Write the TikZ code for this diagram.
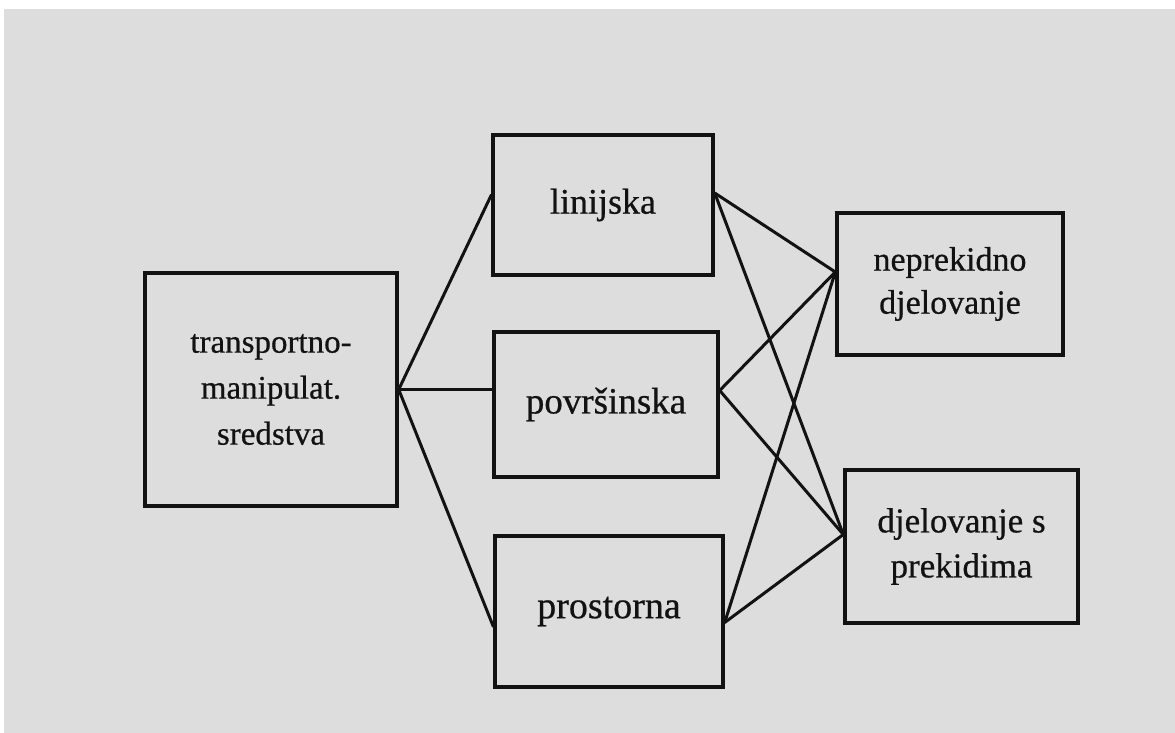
\documentclass[tikz,border=0pt]{standalone}
\usepackage{fontspec}
\setmainfont{Liberation Serif}
\newfontfamily\inkfont[FakeBold=0.6]{Liberation Serif}
\definecolor{paper}{RGB}{221,221,221}
\definecolor{ink}{RGB}{18,18,18}
\begin{document}
\begin{tikzpicture}[x=1pt,y=-1pt,
  box/.style={draw=ink, line width=3.4pt, rectangle, inner sep=0pt, align=center, text=ink},
  link/.style={draw=ink, line width=3pt, line cap=round}]
\useasboundingbox (0,0) rectangle (1175,733);
\fill[white] (0,0) rectangle (1175,733);
\fill[paper] (4,9) rectangle (1175,733);
% nodes
\node[box, minimum width=252pt, minimum height=233pt, font=\inkfont\fontsize{33}{46}\selectfont] (t) at (271,389.5) {transportno-\\manipulat.\\sredstva};
\node[box, minimum width=220pt, minimum height=140pt, font=\inkfont\fontsize{36}{44}\selectfont] (l) at (603,205) {linijska};
\node[box, minimum width=224pt, minimum height=145pt, font=\inkfont\fontsize{37}{44}\selectfont] (p) at (606,404.5) {površinska};
\node[box, minimum width=228pt, minimum height=151pt, font=\inkfont\fontsize{38}{44}\selectfont] (r) at (609,611.5) {prostorna};
\node[box, minimum width=226pt, minimum height=142pt, font=\inkfont\fontsize{34}{43}\selectfont] (n) at (950,284) {neprekidno\\djelovanje};
\node[box, minimum width=233pt, minimum height=153pt, font=\inkfont\fontsize{35}{45}\selectfont] (d) at (961.5,546.5) {djelovanje s\\prekidima};
% connectors
\draw[link] (t.east) -- ([yshift=10pt]l.west);
\draw[link] (t.east) -- ([yshift=15pt]p.west);
\draw[link] (t.east) -- ([yshift=-15pt]r.west);
\draw[link] ([yshift=12pt]l.east) -- ([yshift=12pt]n.west);
\draw[link] ([yshift=12pt]l.east) -- ([yshift=12pt]d.west);
\draw[link] ([yshift=14pt]p.east) -- ([yshift=12pt]n.west);
\draw[link] ([yshift=14pt]p.east) -- ([yshift=12pt]d.west);
\draw[link] ([yshift=-11pt]r.east) -- ([yshift=12pt]n.west);
\draw[link] ([yshift=-11pt]r.east) -- ([yshift=12pt]d.west);
\end{tikzpicture}
\end{document}
